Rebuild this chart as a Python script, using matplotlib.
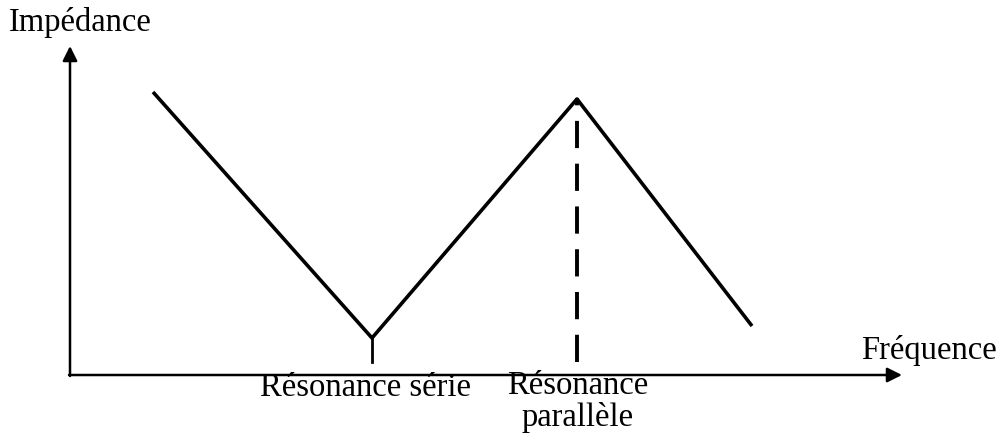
import matplotlib.pyplot as plt

# impedance vs frequency (arbitrary units)
frequence = [153, 372, 577, 752]
impedance = [342, 96, 335, 108]
f_serie = 372
f_parallele = 577

plt.rcParams['font.family'] = ['Liberation Serif', 'DejaVu Serif']

fig = plt.figure(figsize=(10.02, 4.34), dpi=100)
ax = fig.add_axes([0, 0, 1, 1])
ax.set_xlim(0, 1002)
ax.set_ylim(0, 434)
ax.axis('off')

# axes with arrows
ax.annotate('', xy=(902, 59), xytext=(69, 59),
            arrowprops=dict(arrowstyle='-|>', lw=1.8, color='black',
                            mutation_scale=22, shrinkA=0, shrinkB=0))
ax.annotate('', xy=(70, 388), xytext=(70, 58),
            arrowprops=dict(arrowstyle='-|>', lw=1.8, color='black',
                            mutation_scale=22, shrinkA=0, shrinkB=0))

ax.plot(frequence, impedance, color='black', lw=2.6, solid_joinstyle='round',
        solid_capstyle='butt')
ax.plot([f_serie, f_serie], [72, min(impedance)], color='black', lw=2.0)
ax.plot([f_parallele, f_parallele], [72, max(impedance) - 6], color='black',
        lw=2.8, linestyle=(0, (7, 4)))

ax.text(9, 411, 'Impédance', fontsize=23.5, va='center', ha='left')
ax.text(997, 84, 'Fréquence', fontsize=23.5, va='center', ha='right')
ax.text(f_serie - 6, 46, 'Résonance série', fontsize=23.5, va='center', ha='center')
ax.text(f_parallele + 1, 32, 'Résonance\nparallèle', fontsize=23.5, va='center',
        ha='center', linespacing=1.05)

plt.savefig('out.png', dpi=100)
